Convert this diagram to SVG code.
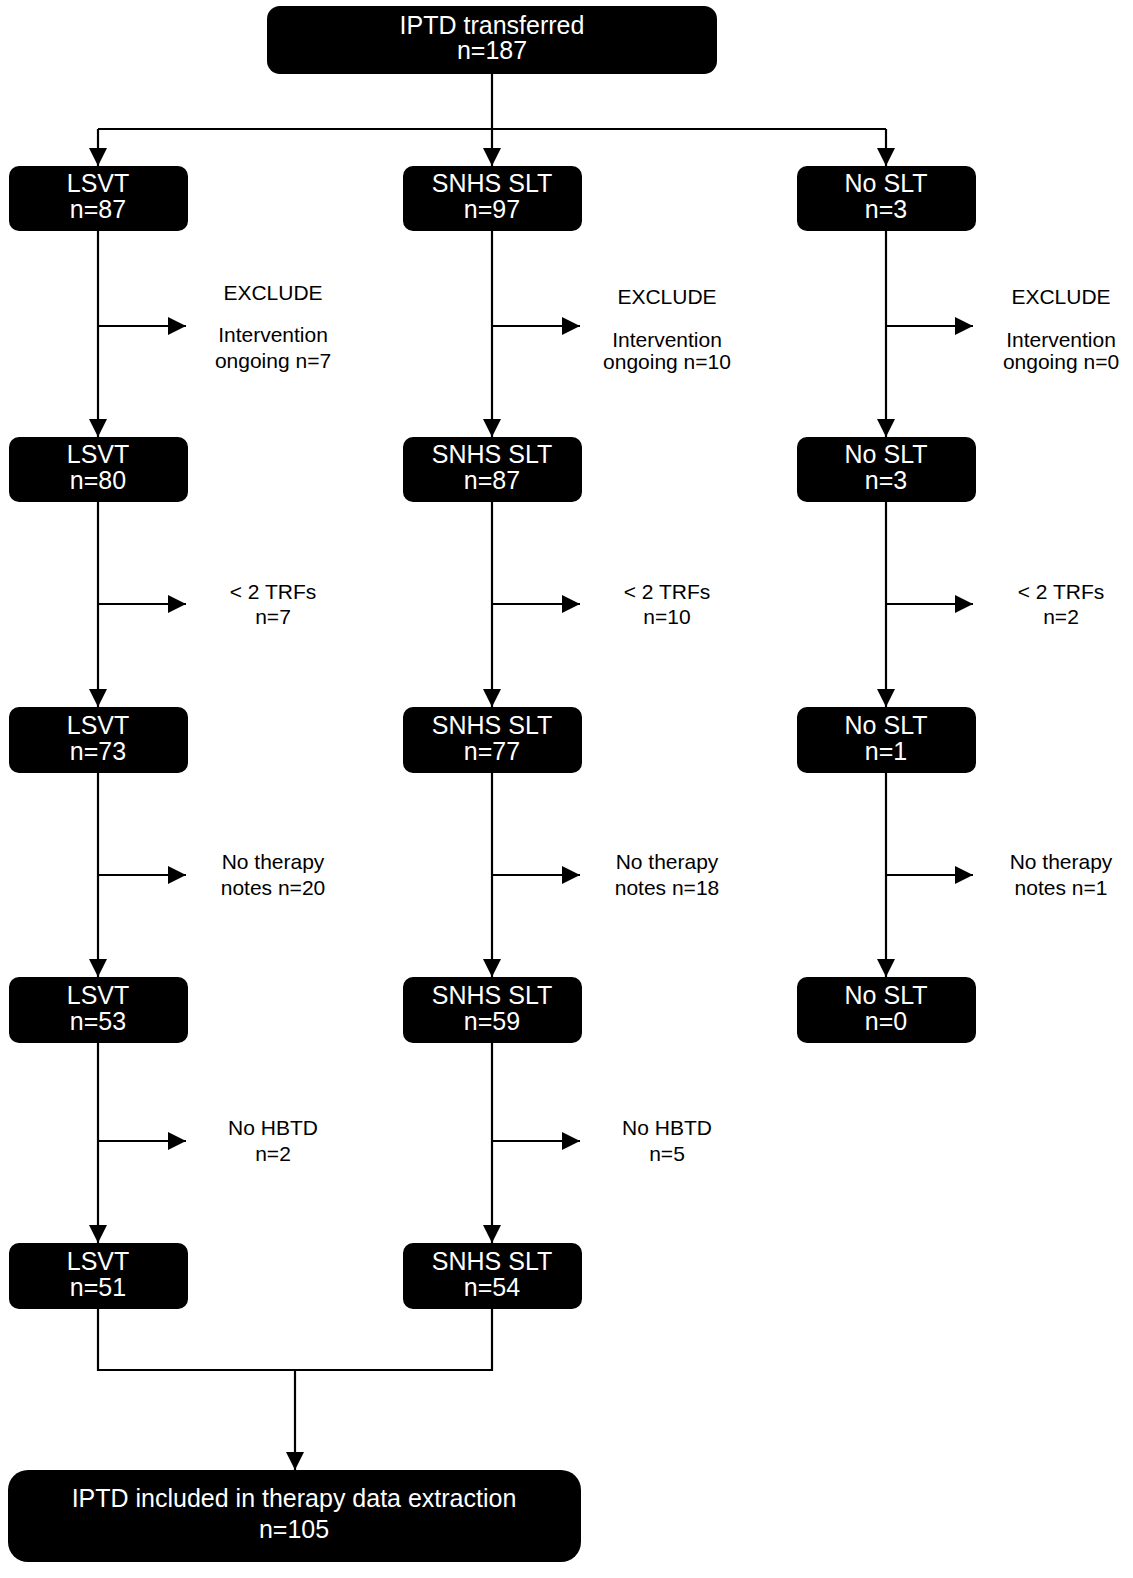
<svg xmlns="http://www.w3.org/2000/svg" width="1133" height="1578" viewBox="0 0 1133 1578">
<style>
.box{fill:#000;}
.bt{fill:#fff;font-family:"Liberation Sans",Arial,sans-serif;font-size:25px;text-anchor:middle;}
.lt{fill:#000;font-family:"Liberation Sans",Arial,sans-serif;font-size:21px;text-anchor:middle;}
.ln{fill:none;stroke:#000;stroke-width:2.2;}
</style>
<defs>
<marker id="ah" viewBox="0 0 18 18" refX="18" refY="9" markerWidth="18" markerHeight="18" markerUnits="userSpaceOnUse" orient="auto">
<path d="M0,0 L18,9 L0,18 z" fill="#000"/>
</marker>
</defs>
<rect width="1133" height="1578" fill="#fff"/>

<g id="connectors">
<line class="ln" x1="492" y1="74" x2="492" y2="166" marker-end="url(#ah)"/>
<path class="ln" d="M98,129 H886"/>
<line class="ln" x1="98" y1="129" x2="98" y2="166" marker-end="url(#ah)"/>
<line class="ln" x1="886" y1="129" x2="886" y2="166" marker-end="url(#ah)"/>
<!-- col 1 -->
<line class="ln" x1="98" y1="231" x2="98" y2="437" marker-end="url(#ah)"/>
<line class="ln" x1="98" y1="502" x2="98" y2="707" marker-end="url(#ah)"/>
<line class="ln" x1="98" y1="773" x2="98" y2="977" marker-end="url(#ah)"/>
<line class="ln" x1="98" y1="1043" x2="98" y2="1243" marker-end="url(#ah)"/>
<line class="ln" x1="98" y1="326" x2="186" y2="326" marker-end="url(#ah)"/>
<line class="ln" x1="98" y1="604" x2="186" y2="604" marker-end="url(#ah)"/>
<line class="ln" x1="98" y1="875" x2="186" y2="875" marker-end="url(#ah)"/>
<line class="ln" x1="98" y1="1141" x2="186" y2="1141" marker-end="url(#ah)"/>
<!-- col 2 -->
<line class="ln" x1="492" y1="231" x2="492" y2="437" marker-end="url(#ah)"/>
<line class="ln" x1="492" y1="502" x2="492" y2="707" marker-end="url(#ah)"/>
<line class="ln" x1="492" y1="773" x2="492" y2="977" marker-end="url(#ah)"/>
<line class="ln" x1="492" y1="1043" x2="492" y2="1243" marker-end="url(#ah)"/>
<line class="ln" x1="492" y1="326" x2="580" y2="326" marker-end="url(#ah)"/>
<line class="ln" x1="492" y1="604" x2="580" y2="604" marker-end="url(#ah)"/>
<line class="ln" x1="492" y1="875" x2="580" y2="875" marker-end="url(#ah)"/>
<line class="ln" x1="492" y1="1141" x2="580" y2="1141" marker-end="url(#ah)"/>
<!-- col 3 -->
<line class="ln" x1="886" y1="231" x2="886" y2="437" marker-end="url(#ah)"/>
<line class="ln" x1="886" y1="502" x2="886" y2="707" marker-end="url(#ah)"/>
<line class="ln" x1="886" y1="773" x2="886" y2="977" marker-end="url(#ah)"/>
<line class="ln" x1="886" y1="326" x2="973" y2="326" marker-end="url(#ah)"/>
<line class="ln" x1="886" y1="604" x2="973" y2="604" marker-end="url(#ah)"/>
<line class="ln" x1="886" y1="875" x2="973" y2="875" marker-end="url(#ah)"/>
<!-- merge -->
<path class="ln" d="M98,1309 V1370 H492 V1309"/>
<line class="ln" x1="295" y1="1370" x2="295" y2="1470" marker-end="url(#ah)"/>
</g>

<g id="labels">
<text class="lt" x="273" y="300">EXCLUDE</text>
<text class="lt" x="273" y="342">Intervention</text>
<text class="lt" x="273" y="368">ongoing n=7</text>
<text class="lt" x="667" y="304">EXCLUDE</text>
<text class="lt" x="667" y="347">Intervention</text>
<text class="lt" x="667" y="369">ongoing n=10</text>
<text class="lt" x="1061" y="304">EXCLUDE</text>
<text class="lt" x="1061" y="347">Intervention</text>
<text class="lt" x="1061" y="369">ongoing n=0</text>

<text class="lt" x="273" y="599">&lt; 2 TRFs</text>
<text class="lt" x="273" y="624">n=7</text>
<text class="lt" x="667" y="599">&lt; 2 TRFs</text>
<text class="lt" x="667" y="624">n=10</text>
<text class="lt" x="1061" y="599">&lt; 2 TRFs</text>
<text class="lt" x="1061" y="624">n=2</text>

<text class="lt" x="273" y="869">No therapy</text>
<text class="lt" x="273" y="895">notes n=20</text>
<text class="lt" x="667" y="869">No therapy</text>
<text class="lt" x="667" y="895">notes n=18</text>
<text class="lt" x="1061" y="869">No therapy</text>
<text class="lt" x="1061" y="895">notes n=1</text>

<text class="lt" x="273" y="1135">No HBTD</text>
<text class="lt" x="273" y="1161">n=2</text>
<text class="lt" x="667" y="1135">No HBTD</text>
<text class="lt" x="667" y="1161">n=5</text>
</g>

<g id="top"><rect class="box" x="267" y="6" width="450" height="68" rx="13"/><text class="bt" x="492" y="34">IPTD transferred</text><text class="bt" x="492" y="59">n=187</text></g>

<g id="lsvt1"><rect class="box" x="9" y="166" width="179" height="65" rx="10"/><text class="bt" x="98" y="192">LSVT</text><text class="bt" x="98" y="218">n=87</text></g>
<g id="snhs1"><rect class="box" x="403" y="166" width="179" height="65" rx="10"/><text class="bt" x="492" y="192">SNHS SLT</text><text class="bt" x="492" y="218">n=97</text></g>
<g id="noslt1"><rect class="box" x="797" y="166" width="179" height="65" rx="10"/><text class="bt" x="886" y="192">No SLT</text><text class="bt" x="886" y="218">n=3</text></g>

<g id="lsvt2"><rect class="box" x="9" y="437" width="179" height="65" rx="10"/><text class="bt" x="98" y="463">LSVT</text><text class="bt" x="98" y="489">n=80</text></g>
<g id="snhs2"><rect class="box" x="403" y="437" width="179" height="65" rx="10"/><text class="bt" x="492" y="463">SNHS SLT</text><text class="bt" x="492" y="489">n=87</text></g>
<g id="noslt2"><rect class="box" x="797" y="437" width="179" height="65" rx="10"/><text class="bt" x="886" y="463">No SLT</text><text class="bt" x="886" y="489">n=3</text></g>

<g id="lsvt3"><rect class="box" x="9" y="707" width="179" height="66" rx="10"/><text class="bt" x="98" y="734">LSVT</text><text class="bt" x="98" y="760">n=73</text></g>
<g id="snhs3"><rect class="box" x="403" y="707" width="179" height="66" rx="10"/><text class="bt" x="492" y="734">SNHS SLT</text><text class="bt" x="492" y="760">n=77</text></g>
<g id="noslt3"><rect class="box" x="797" y="707" width="179" height="66" rx="10"/><text class="bt" x="886" y="734">No SLT</text><text class="bt" x="886" y="760">n=1</text></g>

<g id="lsvt4"><rect class="box" x="9" y="977" width="179" height="66" rx="10"/><text class="bt" x="98" y="1004">LSVT</text><text class="bt" x="98" y="1030">n=53</text></g>
<g id="snhs4"><rect class="box" x="403" y="977" width="179" height="66" rx="10"/><text class="bt" x="492" y="1004">SNHS SLT</text><text class="bt" x="492" y="1030">n=59</text></g>
<g id="noslt4"><rect class="box" x="797" y="977" width="179" height="66" rx="10"/><text class="bt" x="886" y="1004">No SLT</text><text class="bt" x="886" y="1030">n=0</text></g>

<g id="lsvt5"><rect class="box" x="9" y="1243" width="179" height="66" rx="10"/><text class="bt" x="98" y="1270">LSVT</text><text class="bt" x="98" y="1296">n=51</text></g>
<g id="snhs5"><rect class="box" x="403" y="1243" width="179" height="66" rx="10"/><text class="bt" x="492" y="1270">SNHS SLT</text><text class="bt" x="492" y="1296">n=54</text></g>

<g id="final"><rect class="box" x="8" y="1470" width="573" height="92" rx="20"/><text class="bt" x="294" y="1507">IPTD included in therapy data extraction</text><text class="bt" x="294" y="1538">n=105</text></g>
</svg>
